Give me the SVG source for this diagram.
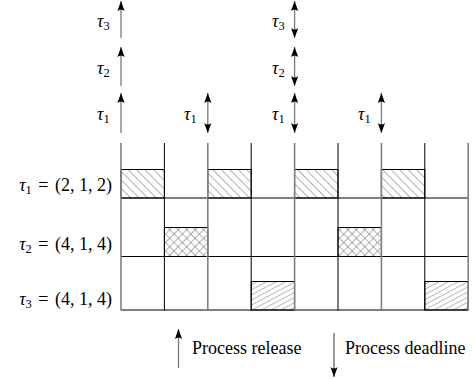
<svg xmlns="http://www.w3.org/2000/svg" width="475" height="379" viewBox="0 0 475 379">
<style>
.sh{stroke:#7a7a7a;stroke-width:1.3;fill:none}
.gv{stroke:#808080;stroke-width:1.6}
.bv{stroke:#000;stroke-width:1}
.hl{stroke:#000;stroke-width:1}
.bx{stroke:#000;stroke-width:1}
</style>
<defs>
<marker id="ah" viewBox="-11 -5 12 10" refX="0" refY="0" markerWidth="12" markerHeight="10" orient="auto-start-reverse" markerUnits="userSpaceOnUse">
<path d="M0,0 L-10,-3.6 Q-7,0 -10,3.6 Z" fill="#000"/>
</marker>
<pattern id="nw" patternUnits="userSpaceOnUse" width="6" height="6" patternTransform="rotate(-45)">
<line x1="0" y1="0" x2="0" y2="6" stroke="#555" stroke-width="0.9"/>
</pattern>
<pattern id="cross" patternUnits="userSpaceOnUse" width="6" height="6" patternTransform="rotate(45)">
<line x1="0" y1="0" x2="0" y2="6" stroke="#555" stroke-width="0.9"/>
<line x1="0" y1="0" x2="6" y2="0" stroke="#555" stroke-width="0.9"/>
</pattern>
<pattern id="ne" patternUnits="userSpaceOnUse" width="4.5" height="4.5" patternTransform="rotate(62)">
<line x1="0" y1="0" x2="0" y2="4.5" stroke="#555" stroke-width="0.8"/>
</pattern>
</defs>
<rect width="475" height="379" fill="#fff"/>

<g id="schedule">
<rect x="121" y="169.5" width="43.4" height="28.5" fill="url(#nw)" class="bx"/>
<rect x="207.8" y="169.5" width="43.4" height="28.5" fill="url(#nw)" class="bx"/>
<rect x="294.6" y="169.5" width="43.4" height="28.5" fill="url(#nw)" class="bx"/>
<rect x="381.4" y="169.5" width="43.4" height="28.5" fill="url(#nw)" class="bx"/>
<rect x="164.4" y="227.5" width="43.4" height="29" fill="url(#cross)" class="bx"/>
<rect x="338" y="227.5" width="43.4" height="29" fill="url(#cross)" class="bx"/>
<rect x="251.2" y="281.5" width="43.4" height="28.5" fill="url(#ne)" class="bx"/>
<rect x="424.8" y="281.5" width="43.4" height="28.5" fill="url(#ne)" class="bx"/>
<line class="hl" x1="121" y1="198" x2="468" y2="198"/>
<line class="hl" x1="121" y1="256.5" x2="468" y2="256.5"/>
<line class="hl" x1="121" y1="310" x2="468" y2="310"/>
<line class="gv" x1="121" y1="143" x2="121" y2="310.5"/>
<line class="bv" x1="164.4" y1="143" x2="164.4" y2="310.5"/>
<line class="gv" x1="207.8" y1="143" x2="207.8" y2="310.5"/>
<line class="bv" x1="251.2" y1="143" x2="251.2" y2="310.5"/>
<line class="gv" x1="294.6" y1="143" x2="294.6" y2="310.5"/>
<line class="bv" x1="338" y1="143" x2="338" y2="310.5"/>
<line class="gv" x1="381.4" y1="143" x2="381.4" y2="310.5"/>
<line class="bv" x1="424.8" y1="143" x2="424.8" y2="310.5"/>
<line class="gv" x1="468.2" y1="143" x2="468.2" y2="310.5"/>
</g>

<g id="row-labels" font-family="Liberation Serif, Times New Roman, serif" font-size="18" fill="#000">
<text x="112" y="191" text-anchor="end"><tspan font-style="italic">τ</tspan><tspan font-size="12.5" dy="3">1</tspan><tspan dy="-3" dx="2"> = </tspan><tspan dx="2">(2, 1, 2)</tspan></text>
<text x="112" y="250" text-anchor="end"><tspan font-style="italic">τ</tspan><tspan font-size="12.5" dy="3">2</tspan><tspan dy="-3" dx="2"> = </tspan><tspan dx="2">(4, 1, 4)</tspan></text>
<text x="112" y="305" text-anchor="end"><tspan font-style="italic">τ</tspan><tspan font-size="12.5" dy="3">3</tspan><tspan dy="-3" dx="2"> = </tspan><tspan dx="2">(4, 1, 4)</tspan></text>
</g>

<g id="connectors">
<line class="sh" x1="121" y1="38" x2="121" y2="1" marker-end="url(#ah)"/>
<line class="sh" x1="121" y1="86" x2="121" y2="47" marker-end="url(#ah)"/>
<line class="sh" x1="121" y1="133" x2="121" y2="93" marker-end="url(#ah)"/>
<line class="sh" x1="207.8" y1="93" x2="207.8" y2="133" marker-start="url(#ah)" marker-end="url(#ah)"/>
<line class="sh" x1="294.6" y1="1" x2="294.6" y2="38" marker-start="url(#ah)" marker-end="url(#ah)"/>
<line class="sh" x1="294.6" y1="47" x2="294.6" y2="86" marker-start="url(#ah)" marker-end="url(#ah)"/>
<line class="sh" x1="294.6" y1="93" x2="294.6" y2="133" marker-start="url(#ah)" marker-end="url(#ah)"/>
<line class="sh" x1="381.4" y1="93" x2="381.4" y2="133" marker-start="url(#ah)" marker-end="url(#ah)"/>
</g>

<g id="arrow-labels" font-family="Liberation Serif, Times New Roman, serif" font-size="18" fill="#000">
<text x="97" y="27"><tspan font-style="italic">τ</tspan><tspan font-size="12.5" dy="3">3</tspan></text>
<text x="97" y="74"><tspan font-style="italic">τ</tspan><tspan font-size="12.5" dy="3">2</tspan></text>
<text x="97" y="120"><tspan font-style="italic">τ</tspan><tspan font-size="12.5" dy="3">1</tspan></text>
<text x="184" y="120"><tspan font-style="italic">τ</tspan><tspan font-size="12.5" dy="3">1</tspan></text>
<text x="272" y="27"><tspan font-style="italic">τ</tspan><tspan font-size="12.5" dy="3">3</tspan></text>
<text x="272" y="74"><tspan font-style="italic">τ</tspan><tspan font-size="12.5" dy="3">2</tspan></text>
<text x="272" y="120"><tspan font-style="italic">τ</tspan><tspan font-size="12.5" dy="3">1</tspan></text>
<text x="358" y="120"><tspan font-style="italic">τ</tspan><tspan font-size="12.5" dy="3">1</tspan></text>
</g>

<g id="legend" font-family="Liberation Serif, Times New Roman, serif" font-size="18" fill="#000">
<line class="sh" x1="178.5" y1="368" x2="178.5" y2="329" marker-end="url(#ah)"/>
<text x="192" y="354">Process release</text>
<line x1="334" y1="333" x2="334" y2="377" stroke="#333" stroke-width="1" marker-end="url(#ah)"/>
<text x="345" y="354">Process deadline</text>
</g>
</svg>
